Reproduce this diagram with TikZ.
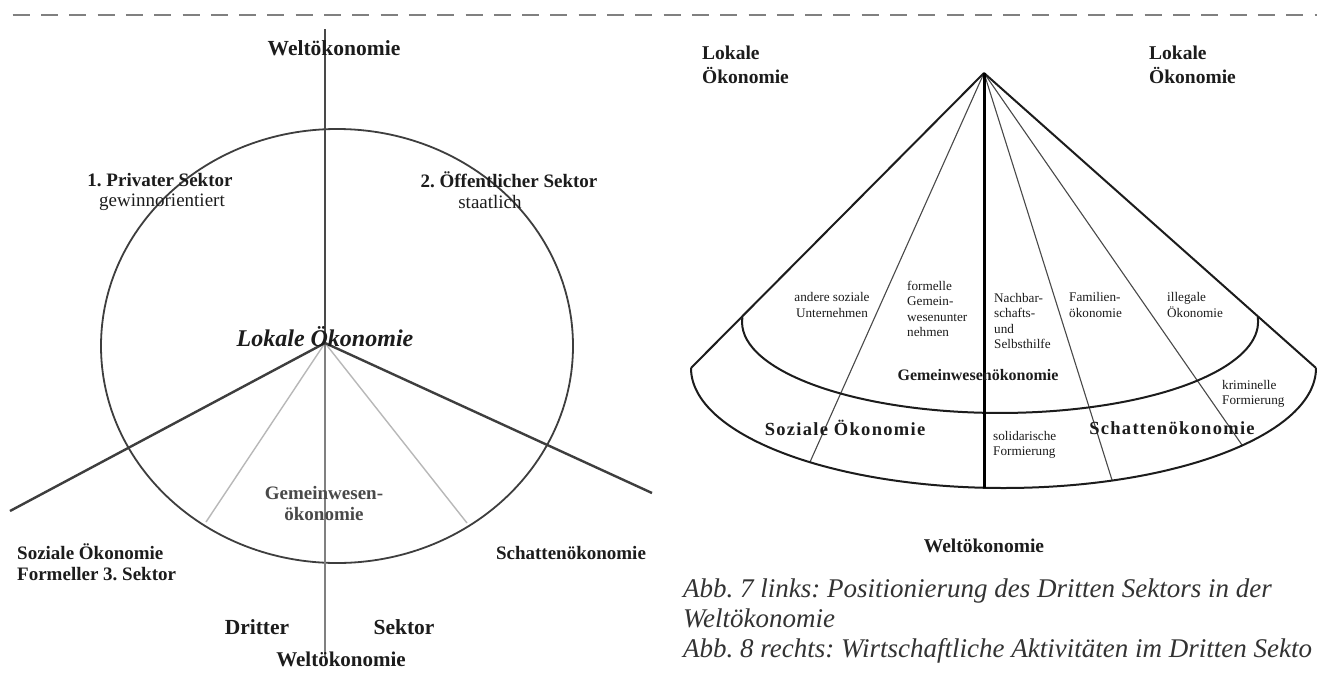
\documentclass[tikz,border=0pt]{standalone}
\usepackage{fontspec}
\newfontfamily\tnr{Liberation Serif}
\definecolor{ink}{HTML}{1C1C1C}
\definecolor{rule}{HTML}{808080}
\definecolor{capgray}{HTML}{333333}
\frenchspacing
\begin{document}
\begin{tikzpicture}[x=1pt,y=-1pt,
  every node/.style={inner sep=0pt,text=ink},
  head/.style={font=\tnr\bfseries\fontsize{21.5}{24}\selectfont},
  lbl/.style={font=\tnr\bfseries\fontsize{19}{21}\selectfont},
  sub/.style={font=\tnr\fontsize{19}{21}\selectfont},
  lokal/.style={font=\tnr\bfseries\itshape\fontsize{24}{26}\selectfont},
  small/.style={font=\tnr\fontsize{13.2}{15.5}\selectfont,align=left},
  spaced/.style={font=\tnr\bfseries\fontsize{18.5}{20}\selectfont\addfontfeature{LetterSpace=7}},
  ring/.style={draw=ink!85,line width=1.8pt},
  spoke/.style={draw=ink!85,line width=2.4pt},
  faint/.style={draw=black!28,line width=1.4pt},
  axisline/.style={draw=ink!80,line width=1.6pt},
  lower/.style={draw=black!50,line width=1.4pt},
  fanedge/.style={draw=ink,line width=2pt},
  fanray/.style={draw=ink!80,line width=1.1pt},
  fanaxis/.style={draw=black,line width=3pt},
]
\useasboundingbox (0,0) rectangle (1317,672);
\fill[white] (0,0) rectangle (1317,672);

% separator along the top edge
\coordinate (sepA) at (12.7,15);
\coordinate (sepB) at (1317,15);
\draw[rule,line width=2.4pt,dash pattern=on 17pt off 11.3pt] (sepA) -- (sepB);

% ---------- left figure: positioning of the third sector ----------
\coordinate (wtop) at (325,29);
\coordinate (hub) at (325,343);
\coordinate (wbot) at (325,658);
\coordinate (sozEnd) at (10,511);
\coordinate (schEnd) at (652,493);
\coordinate (gwL) at (206,522);
\coordinate (gwR) at (467,523);

\draw[ring] (337,346) ellipse [x radius=236pt, y radius=217pt];
\draw[faint] (hub) -- (gwL);
\draw[faint] (hub) -- (gwR);
\draw[lower] (hub) -- (wbot);
\draw[axisline] (wtop) -- (hub);
\draw[spoke] (hub) -- (sozEnd);
\draw[spoke] (hub) -- (schEnd);

\node[head] (weltTop) at (334,48) {Weltökonomie};
\node[lbl] (priv) at (160,180) {1. Privater Sektor};
\node[sub] (gewinn) at (162,202) {gewinnorientiert};
\node[lbl] (oeff) at (509,180) {2. Öffentlicher Sektor};
\node[sub] (staat) at (490,202) {staatlich};
\node[lokal] (lokalL) at (325,337) {Lokale Ökonomie};
\node[lbl,align=center,text=ink!80] (gemL) at (324,503) {Gemeinwesen-\\ökonomie};
\node[lbl,align=left,anchor=west] (sozL) at (17,562) {Soziale Ökonomie\\Formeller 3. Sektor};
\node[lbl] (schL) at (571,553) {Schattenökonomie};
\node[head] (dritter) at (257,627) {Dritter};
\node[head] (sektor) at (404,627) {Sektor};
\node[head,font=\tnr\bfseries\fontsize{21}{23}\selectfont] (weltBot) at (341,659) {Weltökonomie};

% ---------- right figure: economic activities of the third sector ----------
\coordinate (apex) at (984,73);
\coordinate (tipL) at (691,368);
\coordinate (tipR) at (1316,368);
\coordinate (inL) at (742.4,317.2);
\coordinate (axisEnd) at (984,488);
\coordinate (rayA) at (810,462);
\coordinate (rayB) at (1112,480);
\coordinate (rayC) at (1242,445);

\draw[fanray] (apex) -- (rayA);
\draw[fanray] (apex) -- (rayB);
\draw[fanray] (apex) -- (rayC);
\draw[fanedge] (inL) arc[start angle=177, end angle=363, x radius=258pt, y radius=91pt];
\draw[fanedge] (tipL) arc[start angle=180, end angle=360, x radius=312.5pt, y radius=120pt];
\draw[fanedge] (apex) -- (tipL);
\draw[fanedge] (apex) -- (tipR);
\draw[fanaxis] (apex) -- (axisEnd);

\node[lbl,font=\tnr\bfseries\fontsize{19.5}{24}\selectfont,align=left,anchor=west] (lokalA) at (702,65) {Lokale\\Ökonomie};
\node[lbl,font=\tnr\bfseries\fontsize{19.5}{24}\selectfont,align=left,anchor=west] (lokalB) at (1149,65) {Lokale\\Ökonomie};

\node[small,align=center] (andere) at (832,305) {andere soziale\\Unternehmen};
\node[small,anchor=west] (formell) at (907,309) {formelle\\Gemein-\\wesenunter\\nehmen};
\node[small,anchor=west] (nachbar) at (994,321) {Nachbar-\\schafts-\\und\\Selbsthilfe};
\node[small,anchor=west] (familie) at (1069,305) {Familien-\\ökonomie};
\node[small,anchor=west] (illegal) at (1167,305) {illegale\\Ökonomie};
\node[small,anchor=west] (krimi) at (1222,394) {kriminelle\\Formierung};
\node[small,anchor=west] (solid) at (993,445) {solidarische\\Formierung};

\node[lbl,font=\tnr\bfseries\fontsize{16}{18}\selectfont] (gemR) at (978,375) {Gemeinwesenökonomie};
\node[spaced] (sozR) at (845,428) {Soziale Ökonomie};
\node[spaced] (schR) at (1172,428) {Schattenökonomie};
\node[lbl,font=\tnr\bfseries\fontsize{19.5}{22}\selectfont] (weltR) at (984,546) {Weltökonomie};

% caption
\node[anchor=west,align=left,text=capgray,font=\tnr\itshape\fontsize{27}{30}\selectfont] (caption) at (683,621)
  {Abb. 7 links: Positionierung des Dritten Sektors in der\\
   Weltökonomie\\
   Abb. 8 rechts: Wirtschaftliche Aktivitäten im Dritten Sekto};
\end{tikzpicture}
\end{document}
